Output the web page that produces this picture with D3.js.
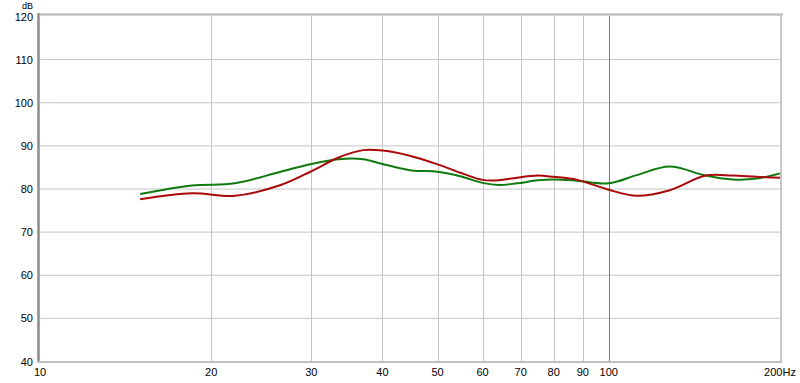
<!DOCTYPE html>
<html>
<head>
<meta charset="utf-8">
<script src="https://cdn.jsdelivr.net/npm/d3@7"></script>
<style>
  body { margin: 0; background: #fff; }
  svg { display: block; font-family: "Liberation Sans", Arial, sans-serif; font-size: 11px; }
</style>
</head>
<body>
<svg></svg>
<script>
const FREQS = [15, 18.5, 22, 26.5, 30, 33.5, 37, 40, 45, 50, 55, 60, 64, 69, 75, 80, 88, 100, 112, 128, 148, 165, 182, 200];
const RED_DB = [77.5, 78.9, 78.3, 80.8, 84.0, 87.2, 88.9, 88.8, 87.5, 85.6, 83.6, 82.0, 81.9, 82.5, 83.0, 82.7, 82.0, 79.7, 78.3, 79.6, 83.0, 83.0, 82.7, 82.5];
const GREEN_DB = [78.7, 80.7, 81.2, 83.9, 85.7, 86.8, 86.8, 85.7, 84.2, 83.9, 82.8, 81.3, 80.8, 81.2, 81.9, 82.1, 81.8, 81.2, 83.1, 85.1, 83.0, 82.1, 82.3, 83.5];

const X_TICKS = [10, 20, 30, 40, 50, 60, 70, 80, 90, 100, 200];
const Y_TICKS = [40, 50, 60, 70, 80, 90, 100, 110, 120];

const WIDTH = 800;
const HEIGHT = 383;
const LEFT = 40;
const RIGHT = 780;
const TOP = 16;
const BOTTOM = 361;

const xScale = d3.scaleLog().domain([10, 200]).range([LEFT, RIGHT]);
const yScale = d3.scaleLinear().domain([40, 120]).range([BOTTOM, TOP]);

const svg = d3.select("svg").attr("width", WIDTH).attr("height", HEIGHT);

// grid
svg.append("g")
  .selectAll("line")
  .data(Y_TICKS.slice(1, -1))
  .enter()
  .append("line")
  .attr("x1", LEFT)
  .attr("x2", RIGHT)
  .attr("y1", (d) => yScale(d) + 0.5)
  .attr("y2", (d) => yScale(d) + 0.5)
  .attr("stroke", "#c4c4c4");

svg.append("g")
  .selectAll("line")
  .data(X_TICKS.slice(1, -1))
  .enter()
  .append("line")
  .attr("x1", (d) => Math.round(xScale(d)) + 0.5)
  .attr("x2", (d) => Math.round(xScale(d)) + 0.5)
  .attr("y1", TOP)
  .attr("y2", BOTTOM)
  .attr("stroke", (d) => (d === 100 ? "#7a7a7a" : "#c4c4c4"));

// frame
svg.append("rect").attr("x", LEFT - 3).attr("y", TOP - 3).attr("width", RIGHT - LEFT + 6).attr("height", 3).attr("fill", "#d2d2d2");
svg.append("rect").attr("x", LEFT - 3).attr("y", TOP - 2).attr("width", RIGHT - LEFT + 6).attr("height", 1).attr("fill", "#bcbcbc");
svg.append("rect").attr("x", LEFT - 3).attr("y", TOP - 3).attr("width", 3).attr("height", BOTTOM - TOP + 5).attr("fill", "#a8a8a8");
svg.append("rect").attr("x", LEFT - 2).attr("y", TOP - 2).attr("width", 1).attr("height", BOTTOM - TOP + 3).attr("fill", "#8c8c8c");
svg.append("rect").attr("x", RIGHT).attr("y", TOP - 3).attr("width", 2).attr("height", BOTTOM - TOP + 5).attr("fill", "#c8c8c8");
svg.append("rect").attr("x", LEFT - 3).attr("y", BOTTOM).attr("width", RIGHT - LEFT + 5).attr("height", 2).attr("fill", "#c0c0c0");

// axis labels
svg.append("g")
  .selectAll("text")
  .data(Y_TICKS)
  .enter()
  .append("text")
  .attr("x", 33)
  .attr("y", (d) => yScale(d) + 4.5)
  .attr("text-anchor", "end")
  .attr("fill", "#000")
  .text((d) => d);

svg.append("text").attr("x", 33).attr("y", 8.5).attr("text-anchor", "end").attr("font-size", "9px").text("dB");

svg.append("g")
  .selectAll("text")
  .data(X_TICKS)
  .enter()
  .append("text")
  .attr("x", (d) => xScale(d))
  .attr("y", 376)
  .attr("text-anchor", "middle")
  .attr("fill", "#000")
  .text((d) => (d === 200 ? "200Hz" : d));

// curves
const line = d3
  .line()
  .x((d) => xScale(d[0]))
  .y((d) => yScale(d[1]))
  .curve(d3.curveCatmullRom.alpha(0.5));

svg.append("path")
  .datum(FREQS.map((f, i) => [f, GREEN_DB[i]]))
  .attr("d", line)
  .attr("fill", "none")
  .attr("stroke", "#0f7a0f")
  .attr("stroke-width", 2);

svg.append("path")
  .datum(FREQS.map((f, i) => [f, RED_DB[i]]))
  .attr("d", line)
  .attr("fill", "none")
  .attr("stroke", "#a80808")
  .attr("stroke-width", 2);
</script>
</body>
</html>
